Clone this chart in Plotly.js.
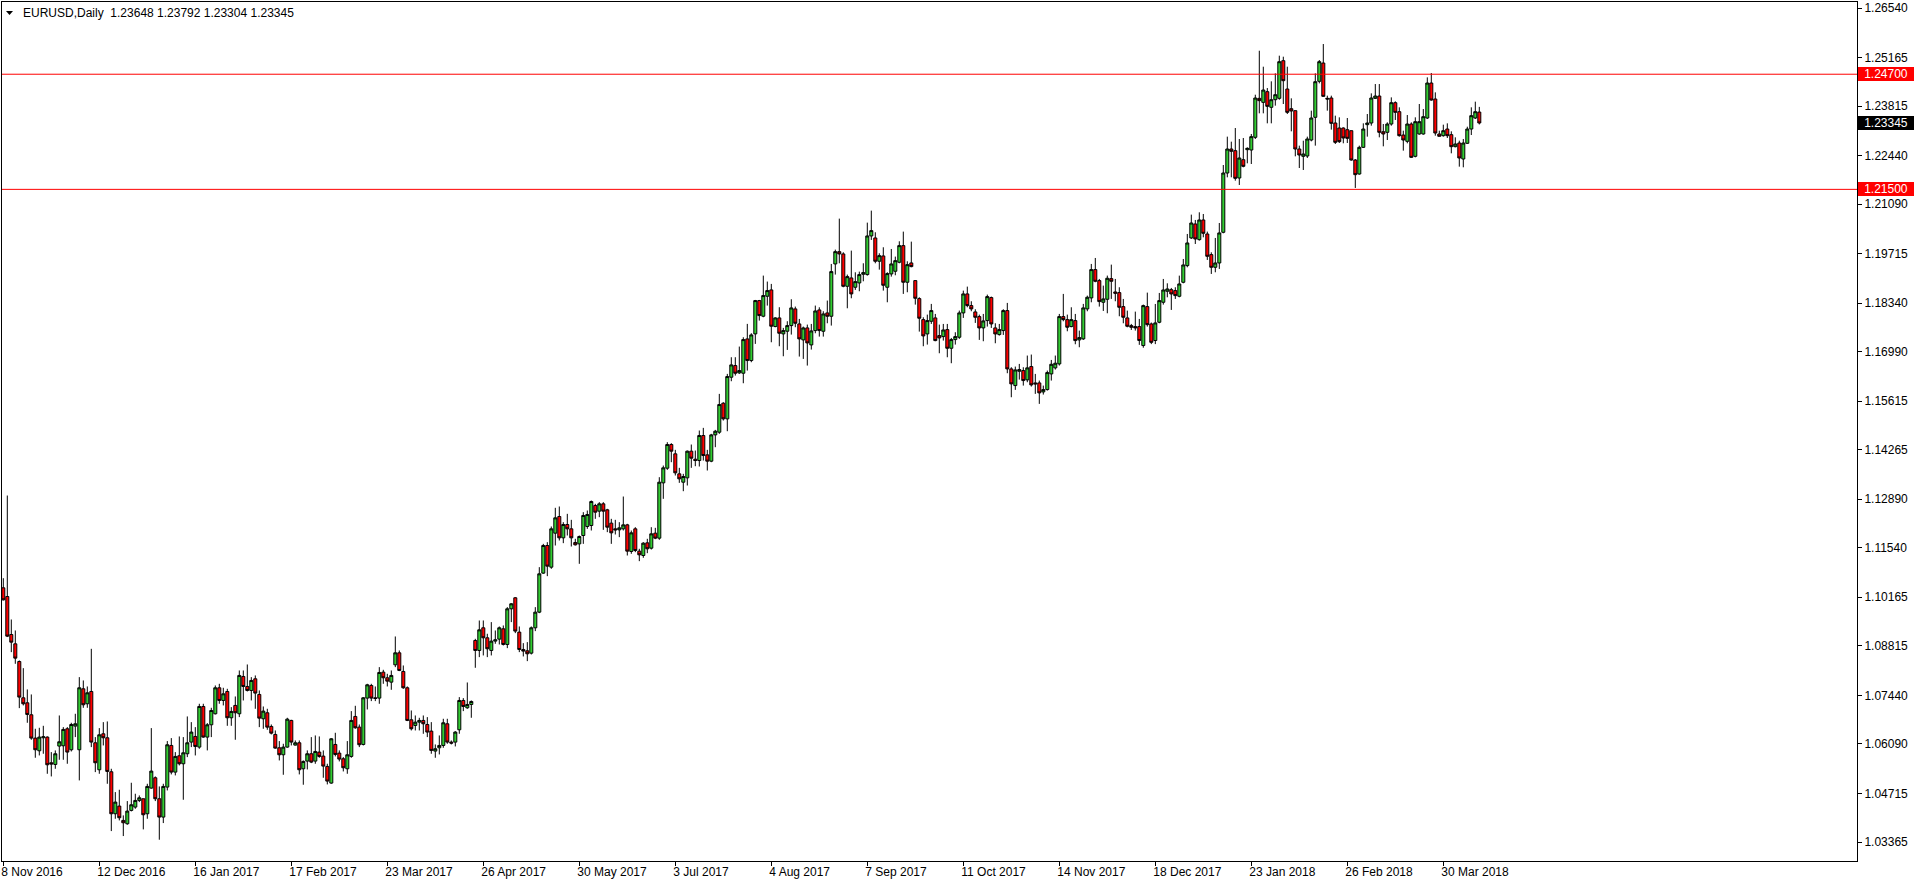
<!DOCTYPE html>
<html>
<head>
<meta charset="utf-8">
<script src="https://cdn.plot.ly/plotly-3.0.1.min.js"></script>
<style>html,body{margin:0;padding:0;background:#fff;overflow:hidden}#chart{width:1916px;height:884px}</style>
</head>
<body>
<div id="chart"></div>
<script>
// EURUSD daily, 8 Nov 2016 .. 12 Apr 2018 (one entry per bar)
const openP = [
1.10428,1.10187,1.09131,1.08872,1.08381,1.07372,1.07233,1.069,1.06252,1.059,
1.06261,1.0628,1.05567,1.0552,1.0603,1.06039,1.06511,1.05928,1.06585,1.05928,
1.07622,1.07206,1.07548,1.06122,1.05372,1.06372,1.06261,1.05317,1.0415,1.04363,
1.03965,1.03872,1.04243,1.04335,1.0452,1.04567,1.0415,1.04863,1.0515,1.04567,
1.04057,1.04891,1.06048,1.05307,1.05761,1.05539,1.05817,1.06141,1.06298,1.06002,
1.07131,1.0628,1.06622,1.06928,1.0765,1.07298,1.07548,1.06817,1.0716,1.06928,
1.07965,1.07687,1.07576,1.079,1.07465,1.06789,1.06956,1.06576,1.06354,1.05983,
1.05789,1.06002,1.06743,1.06057,1.06122,1.054,1.05613,1.05817,1.05613,1.05863,
1.05752,1.05465,1.05002,1.06076,1.05835,1.05678,1.054,1.05743,1.06854,1.06557,
1.06076,1.07363,1.07715,1.07372,1.07363,1.08085,1.07928,1.07807,1.08289,1.08622,
1.08104,1.0765,1.06761,1.06604,1.06696,1.06743,1.06631,1.06446,1.05891,1.05983,
1.06048,1.0665,1.06141,1.06141,1.06483,1.07298,1.07094,1.07187,1.08965,1.08687,
1.09317,1.09039,1.08688,1.08947,1.09002,1.09289,1.08854,1.09845,1.10151,1.09197,
1.08715,1.08678,1.08613,1.09317,1.09752,1.10836,1.11604,1.11002,1.11947,1.1241,
1.11817,1.12188,1.12067,1.11688,1.1165,1.11882,1.12132,1.1216,1.12715,1.12558,
1.12762,1.12595,1.12225,1.12067,1.12039,1.12067,1.12178,1.11438,1.12067,1.11447,
1.11326,1.11678,1.1153,1.11947,1.11808,1.13345,1.13752,1.1441,1.14151,1.13595,
1.13363,1.13484,1.14225,1.14002,1.13965,1.1466,1.14123,1.13947,1.14678,1.14752,
1.15558,1.15123,1.1628,1.16604,1.164,1.16391,1.17345,1.16743,1.17484,1.1841,
1.17975,1.1853,1.18706,1.17688,1.17928,1.17484,1.17558,1.17715,1.18178,1.17761,
1.17317,1.1765,1.17178,1.17576,1.1815,1.17557,1.18067,1.17974,1.19428,1.1977,
1.19706,1.18807,1.19039,1.1878,1.189,1.19141,1.19132,1.20206,1.2015,1.19502,
1.1965,1.1878,1.1915,1.19224,1.19474,1.19937,1.18919,1.19456,1.18965,1.18465,
1.17881,1.17483,1.17835,1.17928,1.17437,1.17409,1.17604,1.17085,1.17326,1.17391,
1.18067,1.18595,1.18271,1.18095,1.17965,1.1765,1.17854,1.18493,1.1765,1.17465,
1.17576,1.18132,1.16511,1.16048,1.16446,1.16465,1.16206,1.16576,1.16122,1.16122,
1.15872,1.15937,1.16372,1.1654,1.1665,1.17965,1.17881,1.17687,1.17854,1.17317,
1.17345,1.18178,1.18484,1.19271,1.18965,1.18363,1.18446,1.1902,1.1865,1.18631,
1.18242,1.17928,1.17714,1.17687,1.17687,1.1716,1.18242,1.17761,1.173,1.17807,
1.18363,1.18668,1.18714,1.18687,1.18529,1.18918,1.19381,1.2015,1.20539,1.20103,
1.2065,1.2026,1.19687,1.19335,1.19455,1.20307,1.21955,1.22622,1.22576,1.21816,
1.22326,1.22603,1.22594,1.22946,1.2403,1.23918,1.24215,1.2378,1.23992,1.2403,
1.25076,1.24289,1.23742,1.23687,1.22622,1.22418,1.22427,1.22872,1.23502,1.24502,
1.25011,1.2403,1.24039,1.23344,1.23205,1.23205,1.23159,1.23131,1.22316,1.21927,
1.22668,1.23298,1.23344,1.2403,1.24094,1.23103,1.23085,1.23316,1.23909,1.23659,
1.2301,1.22835,1.23316,1.22418,1.23039,1.23039,1.23483,1.24455,1.24011,1.23039,
1.22992,1.23177,1.2302,1.22687,1.22789,1.22344,1.2278,1.23177,1.23483,1.23648
];
const highP = [
1.10696,1.12993,1.09548,1.09243,1.08409,1.08196,1.07604,1.07465,1.06511,1.06539,
1.06594,1.063,1.05863,1.0591,1.06881,1.06557,1.06557,1.06678,1.06928,1.07946,
1.07854,1.07687,1.08733,1.0628,1.0653,1.06696,1.06715,1.054,1.04752,1.04817,
1.04104,1.04502,1.05011,1.04706,1.04659,1.04567,1.04983,1.0653,1.05187,1.04909,
1.04983,1.06169,1.06252,1.05863,1.06298,1.0628,1.06854,1.06696,1.06557,1.07206,
1.07206,1.06669,1.07094,1.07715,1.07761,1.0765,1.07622,1.07113,1.07409,1.08131,
1.08131,1.08298,1.07946,1.07993,1.07576,1.07131,1.07067,1.06631,1.06465,1.06169,
1.06094,1.06817,1.06761,1.06187,1.06187,1.05631,1.0591,1.0628,1.06326,1.06298,
1.0591,1.05539,1.06252,1.064,1.0591,1.05724,1.06169,1.07002,1.0715,1.06631,
1.07391,1.07761,1.07761,1.07687,1.08224,1.0815,1.08039,1.08131,1.09076,1.08687,
1.0827,1.07687,1.0702,1.06881,1.06817,1.06881,1.06835,1.06696,1.06076,1.06326,
1.06789,1.06789,1.06187,1.06446,1.07391,1.07363,1.07798,1.07298,1.09011,1.0952,
1.09521,1.09151,1.09475,1.09243,1.09354,1.09382,1.09891,1.10002,1.1017,1.09354,
1.08891,1.08919,1.09354,1.09891,1.11002,1.1165,1.11697,1.12132,1.12651,1.12688,
1.12252,1.12484,1.12317,1.1179,1.11882,1.1253,1.12576,1.12854,1.12762,1.12808,
1.12808,1.12623,1.12345,1.12317,1.12252,1.12965,1.12206,1.12021,1.12113,1.11512,
1.11697,1.1179,1.12113,1.12095,1.13502,1.13826,1.14475,1.14447,1.14262,1.13762,
1.13595,1.14243,1.1441,1.14243,1.14799,1.14873,1.14262,1.14706,1.14817,1.15817,
1.15586,1.16373,1.16836,1.16836,1.17132,1.17391,1.17762,1.17502,1.18428,1.18428,
1.19104,1.18938,1.18873,1.17947,1.18225,1.17651,1.17836,1.18447,1.18243,1.179,
1.17687,1.17743,1.17761,1.18271,1.18224,1.18113,1.1841,1.19428,1.19826,1.20687,
1.19752,1.19132,1.19798,1.19196,1.19215,1.19446,1.20576,1.20909,1.20308,1.19724,
1.19891,1.19196,1.19844,1.19632,1.20058,1.20326,1.19502,1.20048,1.18965,1.18502,
1.17946,1.1802,1.18317,1.18039,1.17743,1.17761,1.17761,1.17372,1.1753,1.18132,
1.18687,1.18798,1.18391,1.18169,1.1802,1.18039,1.18576,1.18521,1.1778,1.17761,
1.18169,1.18345,1.16558,1.16576,1.1665,1.16558,1.16882,1.1691,1.16372,1.16187,
1.16048,1.16465,1.1676,1.16882,1.18039,1.18595,1.1802,1.18224,1.18039,1.17576,
1.18317,1.18548,1.19428,1.19594,1.19011,1.18826,1.19104,1.19409,1.19011,1.1878,
1.18455,1.18131,1.17761,1.18103,1.179,1.18298,1.18631,1.178,1.18316,1.18622,
1.19011,1.1889,1.18761,1.1878,1.19103,1.19566,1.20261,1.20798,1.2065,1.20863,
1.20816,1.20326,1.19751,1.2015,1.20566,1.22177,1.22965,1.22826,1.23205,1.229,
1.22928,1.22668,1.23039,1.24131,1.25353,1.24909,1.24316,1.24502,1.24724,1.25215,
1.25187,1.24909,1.2403,1.23687,1.22715,1.22853,1.22965,1.23687,1.24724,1.25094,
1.25539,1.24104,1.24104,1.23548,1.23502,1.23224,1.23483,1.23131,1.22344,1.22715,
1.23335,1.23594,1.24168,1.24427,1.24427,1.23316,1.23363,1.24057,1.23946,1.2378,
1.23131,1.23566,1.23363,1.23502,1.23872,1.23733,1.24613,1.24733,1.24196,1.23131,
1.23298,1.23335,1.23113,1.22946,1.22853,1.229,1.23242,1.2378,1.23937,1.23792
];
const lowP = [
1.10076,1.0906,1.08641,1.08317,1.07085,1.0716,1.06678,1.06206,1.05706,1.0577,
1.05817,1.05261,1.05187,1.054,1.0565,1.0565,1.05539,1.05881,1.0628,1.05076,
1.07094,1.07094,1.06002,1.05307,1.05261,1.06048,1.04983,1.03668,1.04011,1.03965,
1.0353,1.03844,1.04215,1.04289,1.04474,1.03715,1.04011,1.04845,1.04502,1.03428,
1.03891,1.04798,1.05243,1.05215,1.05493,1.04539,1.05724,1.06002,1.0577,1.05956,
1.06261,1.0591,1.0628,1.06909,1.07206,1.0716,1.06594,1.06594,1.06206,1.06835,
1.07298,1.07548,1.07298,1.07067,1.06557,1.06511,1.06483,1.06354,1.05956,1.05631,
1.05233,1.05983,1.06048,1.06048,1.05243,1.04956,1.05381,1.05557,1.05539,1.05706,
1.0515,1.04965,1.04983,1.05743,1.05604,1.05326,1.05261,1.05706,1.06511,1.06002,
1.06048,1.07048,1.0728,1.0728,1.07206,1.07761,1.07687,1.07594,1.08224,1.08113,
1.07622,1.06724,1.06465,1.06465,1.06465,1.06372,1.0628,1.05817,1.05706,1.05798,
1.05983,1.06094,1.06076,1.0602,1.06372,1.07002,1.07067,1.06817,1.08206,1.08502,
1.08549,1.08502,1.08549,1.08873,1.08854,1.08826,1.08752,1.09475,1.09169,1.08641,
1.08521,1.08391,1.08576,1.09225,1.09724,1.10817,1.10752,1.10956,1.11604,1.11743,
1.11669,1.11882,1.11576,1.11604,1.11095,1.1165,1.12067,1.12021,1.12345,1.12391,
1.12039,1.11975,1.1165,1.1191,1.11836,1.12021,1.11326,1.11373,1.11419,1.11169,
1.11262,1.11391,1.11493,1.1178,1.11762,1.12901,1.13706,1.13919,1.13549,1.13345,
1.13113,1.13271,1.13762,1.13808,1.13799,1.13965,1.13688,1.13919,1.14336,1.14706,
1.15077,1.1478,1.16169,1.16326,1.16373,1.16113,1.16465,1.16697,1.17206,1.17854,
1.17947,1.18271,1.17252,1.17669,1.17141,1.16863,1.17039,1.17465,1.17669,1.16854,
1.16789,1.16604,1.17048,1.17502,1.17409,1.17409,1.1778,1.17715,1.19132,1.19446,
1.1878,1.18196,1.18474,1.18706,1.18669,1.18946,1.19104,1.20095,1.19446,1.1927,
1.18687,1.18363,1.19076,1.19113,1.19446,1.18595,1.18641,1.19335,1.18298,1.17548,
1.17141,1.17187,1.17761,1.1728,1.16946,1.17298,1.16835,1.16669,1.17187,1.17345,
1.17928,1.18224,1.18113,1.17789,1.17317,1.1728,1.17687,1.1765,1.17224,1.17437,
1.17456,1.16391,1.15724,1.15928,1.16215,1.16048,1.16141,1.16021,1.15817,1.15539,
1.15798,1.15909,1.16187,1.16493,1.16604,1.17835,1.17557,1.17669,1.17196,1.17113,
1.17317,1.18113,1.18363,1.18919,1.18243,1.18122,1.18057,1.18456,1.18391,1.17974,
1.17779,1.17668,1.17594,1.17576,1.1718,1.171,1.17687,1.172,1.172,1.17779,
1.18298,1.18501,1.1815,1.18455,1.18501,1.1889,1.19335,1.20122,1.19983,1.20076,
1.20168,1.19539,1.1915,1.19196,1.19289,1.20279,1.21835,1.21835,1.21742,1.21622,
1.22113,1.22224,1.22205,1.229,1.23613,1.23613,1.23335,1.23335,1.23826,1.23992,
1.23872,1.23594,1.23113,1.22418,1.22094,1.22039,1.22372,1.22835,1.22715,1.24446,
1.24076,1.23687,1.2316,1.22761,1.22789,1.2278,1.22789,1.22298,1.21539,1.21909,
1.2265,1.22965,1.2327,1.24011,1.22946,1.22696,1.22872,1.2327,1.23428,1.22965,
1.22576,1.2278,1.22372,1.2239,1.2302,1.2302,1.23455,1.23965,1.22992,1.22974,
1.22965,1.22928,1.22502,1.22668,1.22131,1.22113,1.22761,1.2301,1.23455,1.23304
];
const closeP = [
1.10094,1.09085,1.08918,1.08474,1.07391,1.07206,1.06909,1.06252,1.05928,1.0628,
1.06289,1.05511,1.0553,1.05817,1.0615,1.06493,1.05863,1.06631,1.0665,1.0765,
1.07178,1.07511,1.06141,1.05567,1.06344,1.06261,1.05326,1.0415,1.04474,1.04039,
1.039,1.04224,1.044,1.0452,1.04594,1.04122,1.04909,1.05335,1.04567,1.04057,
1.04909,1.06067,1.05307,1.05743,1.05539,1.05844,1.06122,1.06419,1.0602,1.07131,
1.0628,1.06622,1.0702,1.0765,1.07298,1.07483,1.06817,1.06993,1.06956,1.07993,
1.07687,1.07576,1.07854,1.07502,1.06807,1.07002,1.06557,1.0639,1.05974,1.05789,
1.06002,1.06779,1.06141,1.06122,1.05372,1.05604,1.05817,1.05585,1.05881,1.05743,
1.05474,1.05057,1.06233,1.05798,1.05669,1.05428,1.05789,1.06743,1.06539,1.06067,
1.07372,1.07733,1.07363,1.07354,1.08076,1.07928,1.07835,1.07993,1.08622,1.08131,
1.0765,1.06743,1.06511,1.06696,1.06743,1.0665,1.06419,1.0591,1.05956,1.06048,
1.06678,1.06141,1.06113,1.06419,1.07298,1.07131,1.07187,1.0727,1.08687,1.09261,
1.09039,1.08734,1.08947,1.08984,1.09317,1.08854,1.09845,1.09984,1.09225,1.08715,
1.08669,1.08595,1.09317,1.09752,1.10817,1.11604,1.1103,1.12067,1.12373,1.11817,
1.12188,1.12067,1.11817,1.11623,1.11854,1.12438,1.12465,1.12826,1.1253,1.12762,
1.12558,1.12113,1.11956,1.12039,1.12095,1.12178,1.11447,1.11956,1.11465,1.11345,
1.11669,1.11512,1.11928,1.11808,1.13363,1.13762,1.1441,1.14225,1.13623,1.13456,
1.13521,1.14225,1.1403,1.13965,1.1466,1.14104,1.13947,1.14678,1.1478,1.15521,
1.15123,1.16299,1.16623,1.16391,1.16465,1.17326,1.16743,1.17456,1.1841,1.17993,
1.18549,1.18688,1.17697,1.17928,1.17502,1.17576,1.17715,1.18206,1.1778,1.17345,
1.1765,1.17233,1.17567,1.18122,1.17576,1.18039,1.17974,1.19215,1.1977,1.19706,
1.18807,1.19076,1.18595,1.18937,1.19132,1.19187,1.20206,1.20354,1.19502,1.19659,
1.18835,1.1916,1.19428,1.1952,1.19937,1.18919,1.19409,1.19354,1.18474,1.17919,
1.17428,1.17854,1.18132,1.17298,1.17372,1.17594,1.17085,1.17326,1.17409,1.18067,
1.18595,1.18271,1.18178,1.17946,1.1765,1.17845,1.18521,1.17761,1.17483,1.17604,
1.18132,1.16511,1.16095,1.16483,1.16493,1.16187,1.1654,1.16067,1.16095,1.15845,
1.15937,1.16409,1.1664,1.16669,1.17965,1.17881,1.17669,1.17881,1.17298,1.17382,
1.18206,1.18502,1.19271,1.18946,1.18382,1.18456,1.1903,1.18946,1.18613,1.18224,
1.17946,1.17696,1.17668,1.1765,1.173,1.1827,1.17742,1.1725,1.17789,1.18409,
1.18705,1.18733,1.18594,1.18548,1.18872,1.194,1.20011,1.20566,1.20122,1.2065,
1.20279,1.1964,1.19335,1.19455,1.20289,1.21955,1.22622,1.22557,1.21807,1.22372,
1.2214,1.2264,1.22965,1.24039,1.23965,1.24261,1.23807,1.23992,1.24131,1.25048,
1.2452,1.23641,1.23678,1.22622,1.22455,1.22483,1.229,1.23483,1.24492,1.25048,
1.24085,1.24011,1.23335,1.22807,1.22826,1.22928,1.22918,1.22316,1.21909,1.22668,
1.23177,1.23344,1.24039,1.24094,1.23085,1.23039,1.23316,1.23909,1.23641,1.22992,
1.22872,1.23316,1.2239,1.23381,1.23381,1.2352,1.24455,1.23983,1.23066,1.22974,
1.23131,1.22992,1.22687,1.22761,1.22372,1.22789,1.23177,1.23548,1.23659,1.23345
];
// time axis labels (bar number where each date label sits)
const dateLabels = ["8 Nov 2016","12 Dec 2016","16 Jan 2017","17 Feb 2017","23 Mar 2017","26 Apr 2017","30 May 2017","3 Jul 2017","4 Aug 2017","7 Sep 2017","11 Oct 2017","14 Nov 2017","18 Dec 2017","23 Jan 2018","26 Feb 2018","30 Mar 2018"];
const dateLabelBars = [0,24,48,72,96,120,144,168,192,216,240,264,288,312,336,360];
// price axis labels
const priceTicks = [1.26540,1.25165,1.23815,1.22440,1.21090,1.19715,1.18340,1.16990,1.15615,1.14265,1.12890,1.11540,1.10165,1.08815,1.07440,1.06090,1.04715,1.03365];
// horizontal levels and last price
const levels = [1.24700, 1.21500];
const lastBar = {symbol: "EURUSD", period: "Daily", open: 1.23648, high: 1.23792, low: 1.23304, close: 1.23345};

const bars = closeP.map((_, i) => i);
const FONT = "Liberation Sans, Arial, sans-serif";
// plot area in pixels: x 2..1857, y 2..861
const PL = 2, PR = 1857, PT = 2, PB = 861;
const px = v => (v - PL) / (PR - PL);
const py = v => (PB - v) / (PB - PT);

const trace = {
  type: "candlestick", x: bars, open: openP, high: highP, low: lowP, close: closeP,
  increasing: {line: {color: "#000000", width: 1}, fillcolor: "#32cd32"},
  decreasing: {line: {color: "#000000", width: 1}, fillcolor: "#ff0000"},
  whiskerwidth: 0, hoverinfo: "skip", showlegend: false
};

const shapes = levels.map(v => ({type: "line", xref: "paper", yref: "y", x0: 0, x1: 1, y0: v, y1: v,
  line: {color: "#ff0000", width: 1}}));
shapes.push({type: "path", xref: "paper", yref: "paper",
  path: `M ${px(6)} ${py(11)} L ${px(13)} ${py(11)} L ${px(9.5)} ${py(15)} Z`,
  fillcolor: "#000000", line: {color: "#000000", width: 0}});

const fmt = v => v.toFixed(5);
const annotations = [
  {xref: "paper", yref: "paper", x: px(21), y: py(13), xanchor: "left", yanchor: "middle", showarrow: false,
   text: `${lastBar.symbol},${lastBar.period}\u00a0\u00a0${fmt(lastBar.open)} ${fmt(lastBar.high)} ${fmt(lastBar.low)} ${fmt(lastBar.close)}`,
   font: {family: FONT, size: 12, color: "#000000"}},
  ...levels.map(v => ({xref: "paper", yref: "y", x: px(1858), y: v, xanchor: "left", yanchor: "middle",
   showarrow: false, text: fmt(v), bgcolor: "#ff0000", width: 54, height: 12, borderpad: 1, borderwidth: 0,
   align: "center", font: {family: FONT, size: 12, color: "#ffffff"}})),
  {xref: "paper", yref: "y", x: px(1858), y: lastBar.close, xanchor: "left", yanchor: "middle",
   showarrow: false, text: fmt(lastBar.close), bgcolor: "#000000", width: 54, height: 12, borderpad: 1, borderwidth: 0,
   align: "center", font: {family: FONT, size: 12, color: "#ffffff"}}
];

const layout = {
  width: 1916, height: 884,
  margin: {l: PL, r: 1916 - PR, t: PT, b: 884 - PB, pad: 0},
  paper_bgcolor: "#ffffff", plot_bgcolor: "#ffffff",
  showlegend: false, boxgap: 0.25, boxgroupgap: 0,
  xaxis: {
    range: [-(3.3 - PL) / 4, -(3.3 - PL) / 4 + (PR - PL) / 4],
    tickmode: "array", tickvals: dateLabelBars, ticktext: dateLabels,
    ticks: "outside", ticklen: 4, tickcolor: "#000000", tickwidth: 1,
    ticklabelposition: "outside right", ticklabelshift: -3, ticklabeloverflow: "allow",
    showgrid: false, zeroline: false, showline: true, mirror: true, linecolor: "#000000", linewidth: 1,
    rangeslider: {visible: false}, fixedrange: true,
    tickfont: {family: FONT, size: 12, color: "#000000"}
  },
  yaxis: {
    side: "right",
    range: [1.2654 - (PB - 8) / 3598.7, 1.2654 + (8 - PT) / 3598.7],
    tickmode: "array", tickvals: priceTicks, ticktext: priceTicks.map(fmt),
    ticks: "outside", ticklen: 4, tickcolor: "#000000", tickwidth: 1,
    showgrid: false, zeroline: false, showline: true, mirror: true, linecolor: "#000000", linewidth: 1,
    fixedrange: true,
    tickfont: {family: FONT, size: 12, color: "#000000"}
  },
  shapes: shapes,
  annotations: annotations
};

Plotly.newPlot("chart", [trace], layout, {staticPlot: true, displayModeBar: false});
</script>
</body>
</html>
